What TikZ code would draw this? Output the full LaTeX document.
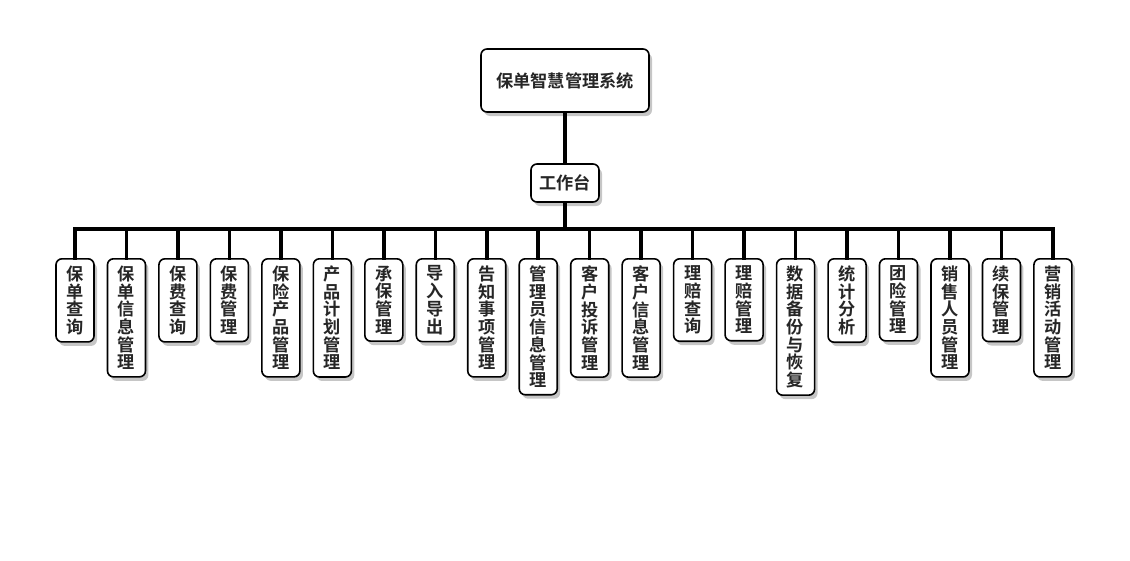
\documentclass[tikz,border=0pt]{standalone}
\usepackage{fontspec}
\newfontfamily\cjk{Noto Sans CJK SC}[BoldFont={* Bold}]
\usetikzlibrary{shadows}
\tikzset{
  box/.style={draw=black, line width=1.6pt, fill=white, rounded corners=6pt,
    drop shadow={shadow xshift=3pt, shadow yshift=-4pt, opacity=0.45, fill=gray},
    text=black!85, font=\cjk\bfseries\fontsize{17.2}{17.7}\selectfont},
  func/.style={box, anchor=north, minimum width=38pt, inner xsep=0pt,
    inner ysep=7pt, align=center},
  link/.style={line width=3.5pt, line cap=rect}
}
\begin{document}
\begin{tikzpicture}[x=1pt, y=-1pt]
  \useasboundingbox (0,0) rectangle (1130,560);

  % top of the tree
  \node[box, minimum width=168pt, minimum height=63pt] (root) at (565,80.5) {保单智慧管理系统};
  \node[box, minimum width=68pt, minimum height=38pt, inner xsep=4pt] (ws) at (565,183) {工作台};
  \coordinate (bar) at (565,229);

  % function modules
  \foreach \t [count=\i] in {
      {保\\单\\查\\询}, {保\\单\\信\\息\\管\\理}, {保\\费\\查\\询}, {保\\费\\管\\理},
      {保\\险\\产\\品\\管\\理}, {产\\品\\计\\划\\管\\理}, {承\\保\\管\\理}, {导\\入\\导\\出},
      {告\\知\\事\\项\\管\\理}, {管\\理\\员\\信\\息\\管\\理}, {客\\户\\投\\诉\\管\\理},
      {客\\户\\信\\息\\管\\理}, {理\\赔\\查\\询}, {理\\赔\\管\\理},
      {数\\据\\备\\份\\与\\恢\\复}, {统\\计\\分\\析}, {团\\险\\管\\理},
      {销\\售\\人\\员\\管\\理}, {续\\保\\管\\理}, {营\\销\\活\\动\\管\\理}}
    \node[func] (c\i) at ({75+(\i-1)*51.47},258) {\t};

  % connectors
  \draw[link] (root) -- (ws);
  \draw[link] (ws) -- (bar);
  \draw[link] (c1.north |- bar) -- (c20.north |- bar);
  \foreach \i in {1,...,20}
    \draw[link] (c\i.north |- bar) -- (c\i.north);
\end{tikzpicture}
\end{document}
